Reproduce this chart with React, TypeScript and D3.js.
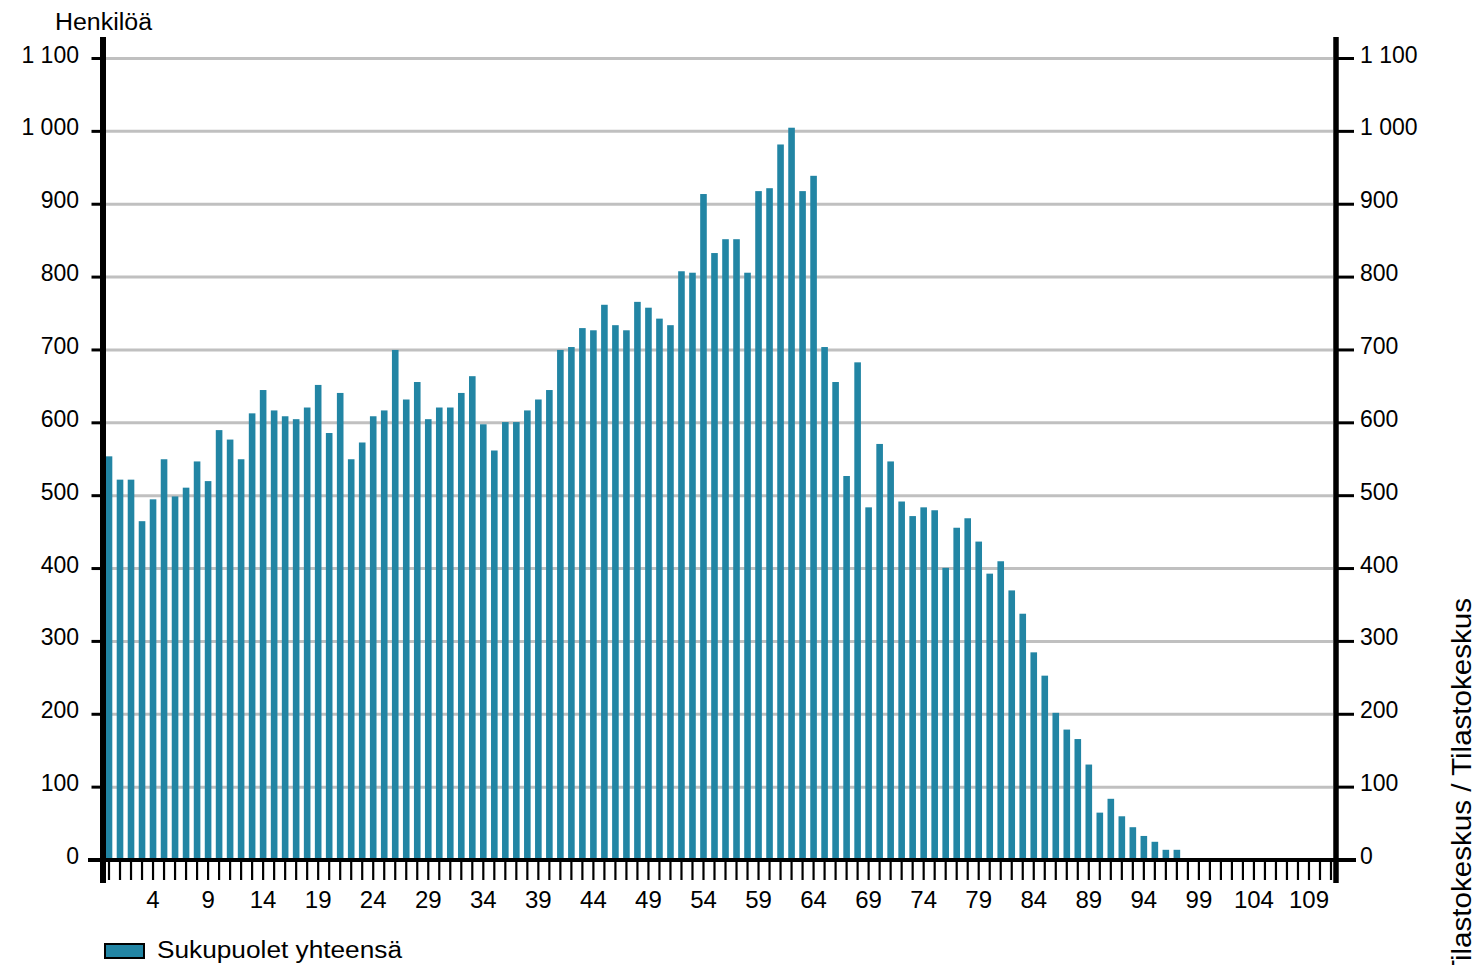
import React from "react";
import * as d3 from "d3";

const ages: number[] = d3.range(0, 112);
const values: number[] = [
  554, 522, 522, 465, 495, 550, 499, 511, 547, 520,
  590, 577, 550, 613, 645, 617, 609, 605, 621, 652,
  586, 641, 550, 573, 609, 617, 700, 632, 656, 605,
  621, 621, 641, 664, 598, 562, 601, 601, 617, 632,
  645, 700, 704, 730, 727, 762, 734, 727, 766, 758,
  743, 734, 808, 806, 914, 833, 852, 852, 806, 918,
  922, 982, 1005, 918, 939, 704, 656, 527, 683, 484,
  571, 547, 492, 472, 484, 480, 401, 456, 469, 437,
  393, 410, 370, 338, 285, 253, 202, 179, 166, 131,
  65, 84, 60, 45, 33, 25, 14, 14, 0, 0,
  0, 0, 0, 0, 0, 0, 0, 0, 0, 0,
  0, 0,
];
const yTicks: number[] = [0, 100, 200, 300, 400, 500, 600, 700, 800, 900, 1000, 1100];
const xTickLabels: number[] = [4, 9, 14, 19, 24, 29, 34, 39, 44, 49, 54, 59, 64, 69, 74, 79, 84, 89, 94, 99, 104, 109];
const yTitle = "Henkilöä";
const legendLabel = "Sukupuolet yhteensä";
const sourceText = "Tilastokeskus / Tilastokeskus";

const W = 1478;
const H = 965;
const FONT = "'Liberation Sans', Arial, sans-serif";
const BAR = "#2285a4";

const fmt = (v: number) => {
  const s = String(v);
  return s.length > 3 ? s.slice(0, s.length - 3) + " " + s.slice(-3) : s;
};

export default function App() {
  const x = d3.scaleBand<number>().domain(ages).range([103.5, 1336.5]).paddingInner(0.4).paddingOuter(0.2);
  const step = x.step();
  const cx = (a: number) => 103.5 + step * (a + 0.5);
  const y = d3.scaleLinear().domain([0, 1100]).range([860, 58.5]);

  return (
    <svg width={W} height={H} style={{ position: "absolute", left: 0, top: 0, background: "#fff" }}>
      <rect x={0} y={0} width={W} height={H} fill="#fff" />
      {/* gridlines */}
      {yTicks.filter((t) => t > 0).map((t) => (
        <line key={"g" + t} x1={106} x2={1333} y1={y(t)} y2={y(t)} stroke="#c0c0c0" strokeWidth={3} />
      ))}
      {/* bars */}
      {ages.map((a, i) =>
        values[i] > 0 ? (
          <rect
            key={"b" + a}
            x={x(a)}
            y={y(values[i])}
            width={x.bandwidth()}
            height={y(0) - y(values[i])}
            fill={BAR}
          />
        ) : null
      )}
      {/* x axis */}
      <line x1={88} x2={1356} y1={860} y2={860} stroke="#000" strokeWidth={4} />
      {ages.map((a) => (
        <line key={"xt" + a} x1={cx(a)} x2={cx(a)} y1={862} y2={880} stroke="#000" strokeWidth={2.2} />
      ))}
      {/* left axis */}
      <line x1={103} x2={103} y1={37} y2={883} stroke="#000" strokeWidth={6} />
      {/* right axis */}
      <line x1={1336} x2={1336} y1={37} y2={883} stroke="#000" strokeWidth={5.5} />
      {yTicks.map((t) => (
        <g key={"yt" + t}>
          <line x1={91.5} x2={103} y1={y(t)} y2={y(t)} stroke="#000" strokeWidth={3} />
          <line x1={1336} x2={1354} y1={y(t)} y2={y(t)} stroke="#000" strokeWidth={3} />
          <text x={79} y={y(t) + 4} textAnchor="end" fontFamily={FONT} fontSize={23} fill="#000">
            {fmt(t)}
          </text>
          <text x={1360} y={y(t) + 4} textAnchor="start" fontFamily={FONT} fontSize={23} fill="#000">
            {fmt(t)}
          </text>
        </g>
      ))}
      {xTickLabels.map((t) => (
        <text key={"xl" + t} x={cx(t)} y={908} textAnchor="middle" fontFamily={FONT} fontSize={24} fill="#000">
          {t}
        </text>
      ))}
      {/* y title */}
      <text x={55} y={30} fontFamily={FONT} fontSize={23} textLength={97} lengthAdjust="spacingAndGlyphs" fill="#000">
        {yTitle}
      </text>
      {/* legend */}
      <rect x={105} y={944} width={39} height={14} fill={BAR} stroke="#000" strokeWidth={2} />
      <text x={157} y={958} fontFamily={FONT} fontSize={23} textLength={245} lengthAdjust="spacingAndGlyphs" fill="#000">
        {legendLabel}
      </text>
      {/* source */}
      <text
        transform="translate(1471,978) rotate(-90)"
        fontFamily={FONT}
        fontSize={27}
        textLength={380}
        lengthAdjust="spacingAndGlyphs"
        fill="#000"
      >
        {sourceText}
      </text>
    </svg>
  );
}
